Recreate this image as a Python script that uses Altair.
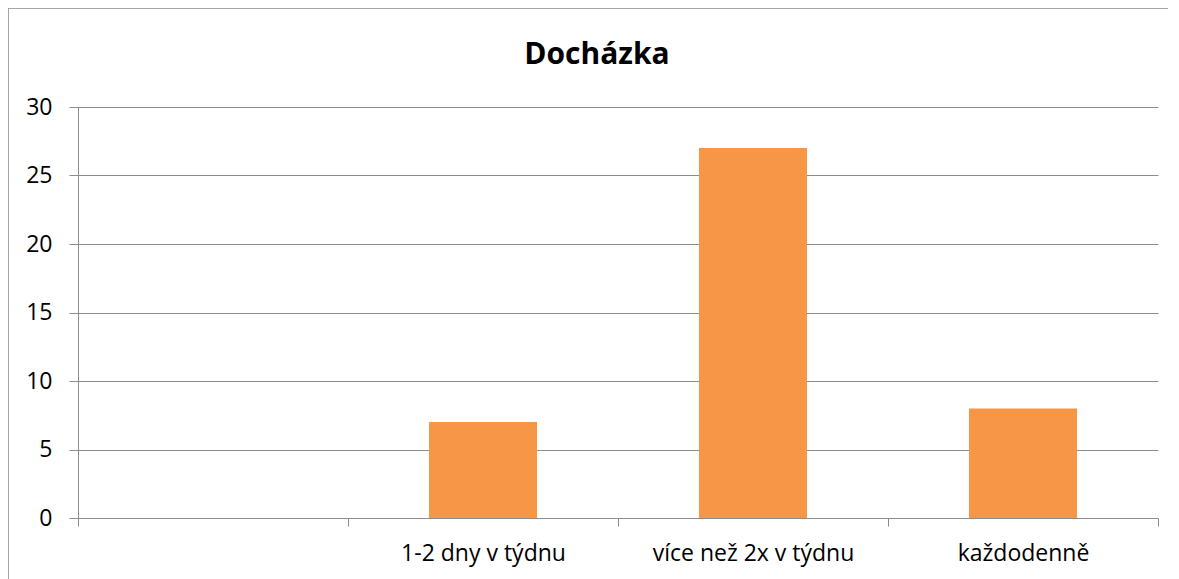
import altair as alt
import pandas as pd

categories = [" ", "1-2 dny v týdnu", "více než 2x v týdnu", "každodenně"]
values = [None, 7, 27, 8]
y_ticks = [0, 5, 10, 15, 20, 25, 30]

df = pd.DataFrame({"kategorie": categories, "pocet": values})

FONT = "Open Sans"
GRID = "#8c8c8c"

bars = alt.Chart(df).mark_bar(color="#F79646", width=alt.RelativeBandSize(0.4)).encode(
    x=alt.X(
        "kategorie:N",
        sort=categories,
        scale=alt.Scale(domain=categories, paddingInner=0, paddingOuter=0),
        axis=alt.Axis(
            title=None,
            labelAngle=0,
            labelFont=FONT,
            labelFontSize=23,
            labelColor="#000000",
            labelPadding=16,
            labelLimit=0,
            tickBand="extent",
            tickSize=8,
            tickColor=GRID,
            domainColor=GRID,
            grid=False,
        ),
    ),
    y=alt.Y(
        "pocet:Q",
        scale=alt.Scale(domain=[0, 30], nice=False),
        axis=alt.Axis(
            title=None,
            values=y_ticks,
            labelFont=FONT,
            labelFontSize=23,
            labelColor="#000000",
            labelPadding=17,
            tickSize=9,
            tickColor=GRID,
            domainColor=GRID,
            gridColor=GRID,
            gridOpacity=1,
        ),
    ),
)

border = alt.Chart(df).mark_rect(fill=None, stroke="#a0a0a0", strokeWidth=1).encode(
    x=alt.value(-70),
    x2=alt.value(1092),
    y=alt.value(-99),
    y2=alt.value(520),
)

chart = alt.layer(border, bars).properties(
    width=1080,
    height=411,
    title=alt.TitleParams(
        "Docházka",
        font=FONT,
        fontSize=30,
        fontWeight="bold",
        color="#000000",
        anchor="middle",
        baseline="alphabetic",
        offset=-86,
        dx=-21,
    ),
    autosize=alt.AutoSizeParams(type="none"),
    padding={"left": 70, "top": 99, "right": 10, "bottom": 70},
).configure_view(stroke=None)

chart.save("out.html", embed_options={"renderer": "svg", "actions": False})
